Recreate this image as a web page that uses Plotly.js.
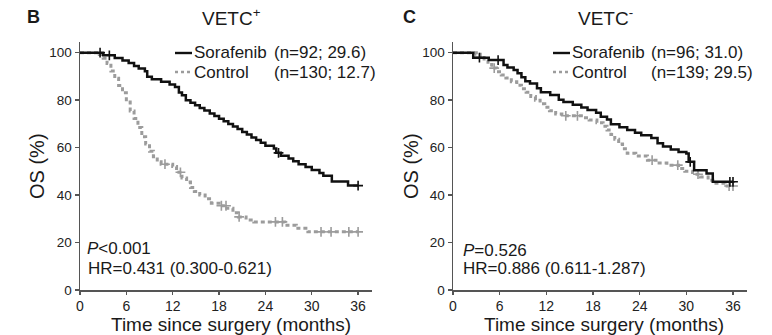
<!DOCTYPE html>
<html>
<head>
<meta charset="utf-8">
<script src="https://cdn.plot.ly/plotly-3.0.1.min.js"></script>
<style>html,body{margin:0;padding:0;background:#fff;}#chart{width:772px;height:335px;}</style>
</head>
<body>
<div id="chart"></div>
<script>
// ---- Data ----
const xTicks = [0, 6, 12, 18, 24, 30, 36];
const yTicks = [0, 20, 40, 60, 80, 100];

// Panel B: VETC+
const vpSorTime = [0, 3.0, 4.5, 5.5, 6.3, 7.0, 7.6, 8.4, 8.7, 9.3, 10.5, 11.6, 12.3, 12.8, 13.2, 13.7, 14.3, 14.9, 15.5, 16.1, 16.8, 17.4, 18.0, 18.6, 19.2, 19.8, 20.4, 21.0, 21.6, 22.2, 22.8, 23.4, 24.0, 25.1, 25.4, 26.0, 27.0, 27.6, 28.3, 29.2, 30.0, 31.0, 31.5, 32.6, 34.7, 36.0];
const vpSorSurv = [100, 98.9, 97.8, 96.7, 95.6, 94.4, 93.3, 92.2, 89.9, 88.8, 87.7, 86.6, 85.5, 83.2, 82.1, 80.0, 78.9, 77.8, 76.7, 75.6, 74.4, 73.3, 72.2, 71.1, 70.0, 68.9, 67.8, 66.6, 65.5, 64.3, 63.2, 62.0, 60.8, 59.6, 57.8, 56.6, 55.4, 54.2, 53.0, 51.8, 50.6, 49.3, 48.1, 45.7, 44.0, 44.0];
const vpSorCensTime = [2.6, 3.8, 25.7, 36.0];
const vpSorCensSurv = [100, 98.9, 57.8, 44.0];

const vpCtlTime = [0, 2.5, 3.0, 3.5, 4.0, 4.5, 5.0, 5.5, 6.0, 6.5, 7.0, 7.5, 8.0, 8.5, 9.0, 9.5, 10.0, 10.5, 12.0, 12.5, 13.2, 13.8, 14.3, 14.8, 15.5, 16.2, 17.0, 18.0, 19.0, 19.8, 20.5, 21.5, 22.5, 26.5, 28.0, 29.5, 36.0];
const vpCtlSurv = [100, 99.2, 97.7, 95.4, 92.3, 89.2, 86.2, 83.1, 79.2, 75.4, 72.3, 68.5, 64.6, 61.5, 58.5, 56.2, 54.0, 53.0, 52.0, 49.6, 47.2, 45.5, 43.2, 41.5, 40.0, 38.5, 36.6, 35.5, 34.4, 32.5, 30.8, 29.5, 28.7, 27.3, 26.0, 24.5, 24.5];
const vpCtlCensTime = [11.0, 13.0, 18.3, 18.9, 20.6, 25.3, 26.2, 31.2, 32.5, 34.8, 36.0];
const vpCtlCensSurv = [53.0, 49.6, 35.5, 35.5, 30.8, 28.7, 28.7, 24.5, 24.5, 24.5, 24.5];

// Panel C: VETC-
const vnSorTime = [0, 2.6, 4.6, 6.5, 7.0, 7.8, 8.3, 8.8, 9.3, 9.9, 10.8, 11.3, 12.5, 13.6, 14.2, 15.4, 16.5, 17.3, 18.4, 19.0, 19.8, 20.3, 21.4, 22.4, 23.4, 24.2, 25.5, 26.3, 27.0, 28.0, 29.0, 30.0, 30.3, 31.0, 32.6, 33.4, 36.0];
const vnSorSurv = [100, 97.9, 96.9, 94.8, 93.8, 92.7, 91.3, 89.6, 88.0, 87.0, 85.0, 83.3, 82.2, 80.2, 79.2, 78.1, 76.9, 75.8, 74.7, 73.0, 71.8, 69.8, 68.6, 67.4, 66.3, 65.2, 64.1, 61.8, 60.5, 59.2, 58.2, 57.5, 54.0, 50.5, 49.1, 45.6, 45.6];
const vnSorCensTime = [3.4, 5.8, 30.5, 35.6, 36.0];
const vnSorCensSurv = [97.9, 96.9, 54.0, 45.6, 45.6];

const vnCtlTime = [0, 3.0, 3.5, 4.0, 4.5, 5.0, 5.6, 6.2, 6.8, 7.5, 8.2, 8.8, 9.4, 10.0, 10.6, 11.2, 11.8, 12.4, 13.2, 14.0, 16.5, 17.5, 18.5, 19.3, 19.8, 20.3, 20.8, 21.3, 21.8, 22.4, 23.5, 25.0, 26.5, 27.5, 29.0, 29.8, 30.8, 31.8, 32.8, 33.6, 35.0, 36.0];
const vnCtlSurv = [100, 99.3, 98.0, 96.5, 95.0, 93.5, 92.0, 90.6, 89.3, 87.8, 86.3, 84.8, 83.3, 81.5, 80.0, 78.5, 77.0, 75.5, 74.2, 73.4, 72.6, 71.6, 70.5, 69.0, 67.4, 65.5, 63.5, 61.5, 59.5, 57.6, 56.5, 54.7, 53.5, 52.6, 51.2, 50.0, 48.8, 47.6, 46.2, 45.0, 43.8, 43.8];
const vnCtlCensTime = [5.3, 14.5, 16.0, 25.6, 28.9, 31.5, 35.5, 36.0];
const vnCtlCensSurv = [93.5, 73.4, 73.4, 54.7, 52.6, 48.8, 43.8, 43.8];

// ---- Styles ----
const BLACK = '#111111';
const GRAY = '#9c9c9c';
const FONT = 'Arial, "Liberation Sans", Helvetica, sans-serif';
const W = 772, H = 335;
const px = v => v / W;
const py = v => 1 - v / H;

function curve(t, s, color, dash, xa, ya, width) {
  return {x: t, y: s, xaxis: xa, yaxis: ya, type: 'scatter', mode: 'lines',
    line: {shape: 'hv', color: color, width: width, dash: dash}, hoverinfo: 'skip', showlegend: false};
}
function cens(t, s, color, xa, ya) {
  return {x: t, y: s, xaxis: xa, yaxis: ya, type: 'scatter', mode: 'markers',
    marker: {symbol: 'cross-thin', size: 7, color: color, line: {color: color, width: 1.6}},
    hoverinfo: 'skip', showlegend: false};
}

const data = [
  curve(vpCtlTime, vpCtlSurv, GRAY, '4px,3px', 'x', 'y', 3),
  cens(vpCtlCensTime, vpCtlCensSurv, GRAY, 'x', 'y'),
  curve(vpSorTime, vpSorSurv, BLACK, 'solid', 'x', 'y', 2.5),
  cens(vpSorCensTime, vpSorCensSurv, BLACK, 'x', 'y'),
  curve(vnCtlTime, vnCtlSurv, GRAY, '4px,3px', 'x2', 'y2', 3),
  cens(vnCtlCensTime, vnCtlCensSurv, GRAY, 'x2', 'y2'),
  curve(vnSorTime, vnSorSurv, BLACK, 'solid', 'x2', 'y2', 2.5),
  cens(vnSorCensTime, vnSorCensSurv, BLACK, 'x2', 'y2')
];

function xax(domain, anchor) {
  return {domain: domain, anchor: anchor, range: [0, 37.8], tickvals: xTicks, ticktext: xTicks.map(String),
    showgrid: false, zeroline: false, showline: true, linecolor: '#555', linewidth: 1.5,
    ticks: 'outside', ticklen: 3, tickwidth: 1.3, tickcolor: '#555',
    tickfont: {family: FONT, size: 14, color: '#222'}, fixedrange: true};
}
function yax(anchor) {
  return {domain: [py(290), py(42)], anchor: anchor, range: [0, 104.5], tickvals: yTicks, ticktext: yTicks.map(String),
    showgrid: false, zeroline: false, showline: true, linecolor: '#555', linewidth: 1.5,
    ticks: 'outside', ticklen: 4, tickwidth: 1.3, tickcolor: '#555',
    tickfont: {family: FONT, size: 13.5, color: '#222'}, fixedrange: true};
}

function txt(text, x, y, size, opts) {
  return Object.assign({text: text, xref: 'paper', yref: 'paper', x: px(x), y: py(y), showarrow: false,
    xanchor: 'left', yanchor: 'middle', font: {family: FONT, size: size, color: '#1a1a1a'}}, opts || {});
}

const annotations = [
  txt('<b>B</b>', 33, 17, 18, {xanchor: 'center'}),
  txt('<b>C</b>', 409, 17, 18, {xanchor: 'center'}),
  txt('VETC<sup>+</sup>', 231, 17, 19, {xanchor: 'center'}),
  txt('VETC<sup>-</sup>', 605, 17, 19, {xanchor: 'center'}),
  // legends
  txt('Sorafenib', 192, 53, 17),
  txt('(n=92; 29.6)', 272, 53, 17),
  txt('Control', 192, 72, 17),
  txt('(n=130; 12.7)', 272, 72, 17),
  txt('Sorafenib', 570, 53, 17),
  txt('(n=96; 31.0)', 649, 53, 17),
  txt('Control', 570, 72, 17),
  txt('(n=139; 29.5)', 649, 72, 17),
  // stats
  txt('<i>P</i><0.001', 85, 248, 17),
  txt('HR=0.431 (0.300-0.621)', 86, 268, 17),
  txt('<i>P</i>=0.526', 461, 250, 17),
  txt('HR=0.886 (0.611-1.287)', 461, 268, 17),
  // axis titles
  txt('Time since surgery (months)', 231, 324, 19, {xanchor: 'center'}),
  txt('Time since surgery (months)', 604, 324, 19, {xanchor: 'center'}),
  txt('OS (%)', 37, 166, 20, {xanchor: 'center', textangle: -90}),
  txt('OS (%)', 411, 166, 20, {xanchor: 'center', textangle: -90})
];

const shapes = [
  {type: 'line', xref: 'paper', yref: 'paper', x0: px(175), x1: px(192), y0: py(53), y1: py(53), line: {color: BLACK, width: 2.4}},
  {type: 'line', xref: 'paper', yref: 'paper', x0: px(175), x1: px(191), y0: py(72), y1: py(72), line: {color: GRAY, width: 2.5, dash: '3px,3px'}},
  {type: 'line', xref: 'paper', yref: 'paper', x0: px(553), x1: px(570), y0: py(53), y1: py(53), line: {color: BLACK, width: 2.4}},
  {type: 'line', xref: 'paper', yref: 'paper', x0: px(553), x1: px(569), y0: py(72), y1: py(72), line: {color: GRAY, width: 2.5, dash: '3px,3px'}}
];

const layout = {
  width: W, height: H,
  margin: {l: 0, r: 0, t: 0, b: 0},
  paper_bgcolor: '#ffffff', plot_bgcolor: '#ffffff',
  showlegend: false,
  xaxis: xax([px(80), px(372)], 'y'),
  yaxis: yax('x'),
  xaxis2: xax([px(453), px(747)], 'y2'),
  yaxis2: yax('x2'),
  annotations: annotations,
  shapes: shapes
};

Plotly.newPlot('chart', data, layout, {staticPlot: true, displayModeBar: false});
</script>
</body>
</html>
